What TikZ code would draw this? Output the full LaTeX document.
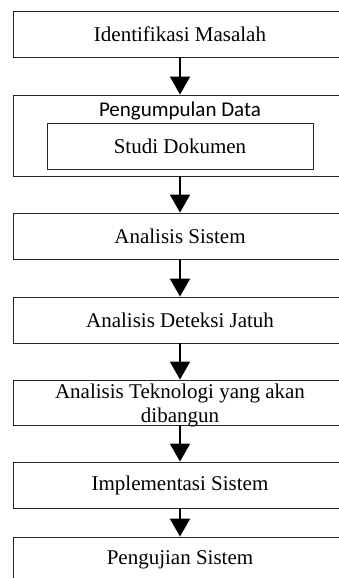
\documentclass[tikz,border=0pt]{standalone}
\usepackage{fontspec}
\setmainfont{Liberation Serif}
\newfontfamily\carlito{Carlito}
\usetikzlibrary{arrows.meta}

\tikzset{
  kotak/.style={draw=black!85, line width=0.9pt, minimum width=334pt, minimum height=46pt, inner sep=0pt, font=\fontsize{21}{24}\selectfont},
  tulisan/.style={inner sep=0pt, font=\fontsize{21}{24}\selectfont},
  panah/.style={-{Triangle[length=18pt,width=20pt]}, line width=2pt},
}

\begin{document}
\begin{tikzpicture}[x=1pt,y=1pt]
  \useasboundingbox (0,0) rectangle (338,-578);
  \node[kotak] (idm) at (180,-34) {Identifikasi Masalah};
  \node[kotak, minimum height=81pt] (pd) at (180,-135.5) {};
  \node[tulisan, font=\carlito\fontsize{21}{24}\selectfont] (pdt) at (180,-111) {Pengumpulan Data};
  \node[kotak, minimum width=266pt] (sd) at (180,-146) {Studi Dokumen};
  \node[kotak] (as) at (180,-236) {Analisis Sistem};
  \node[kotak] (adj) at (180,-320) {Analisis Deteksi Jatuh};
  \node[kotak, minimum height=45pt] (atk) at (180,-402.5) {};
  \node[tulisan, align=center] (atkt) at (180,-405) {Analisis Teknologi yang akan\\dibangun};
  \node[kotak] (is) at (180,-485) {Implementasi Sistem};
  \node[kotak] (ps) at (180,-560) {Pengujian Sistem};
  \draw[panah] (idm) -- (pd);
  \draw[panah] (pd) -- (as);
  \draw[panah] (as) -- (adj);
  \draw[panah] (adj) -- (atk);
  \draw[panah] (atk) -- (is);
  \draw[panah] (is) -- (ps);
\end{tikzpicture}
\end{document}
